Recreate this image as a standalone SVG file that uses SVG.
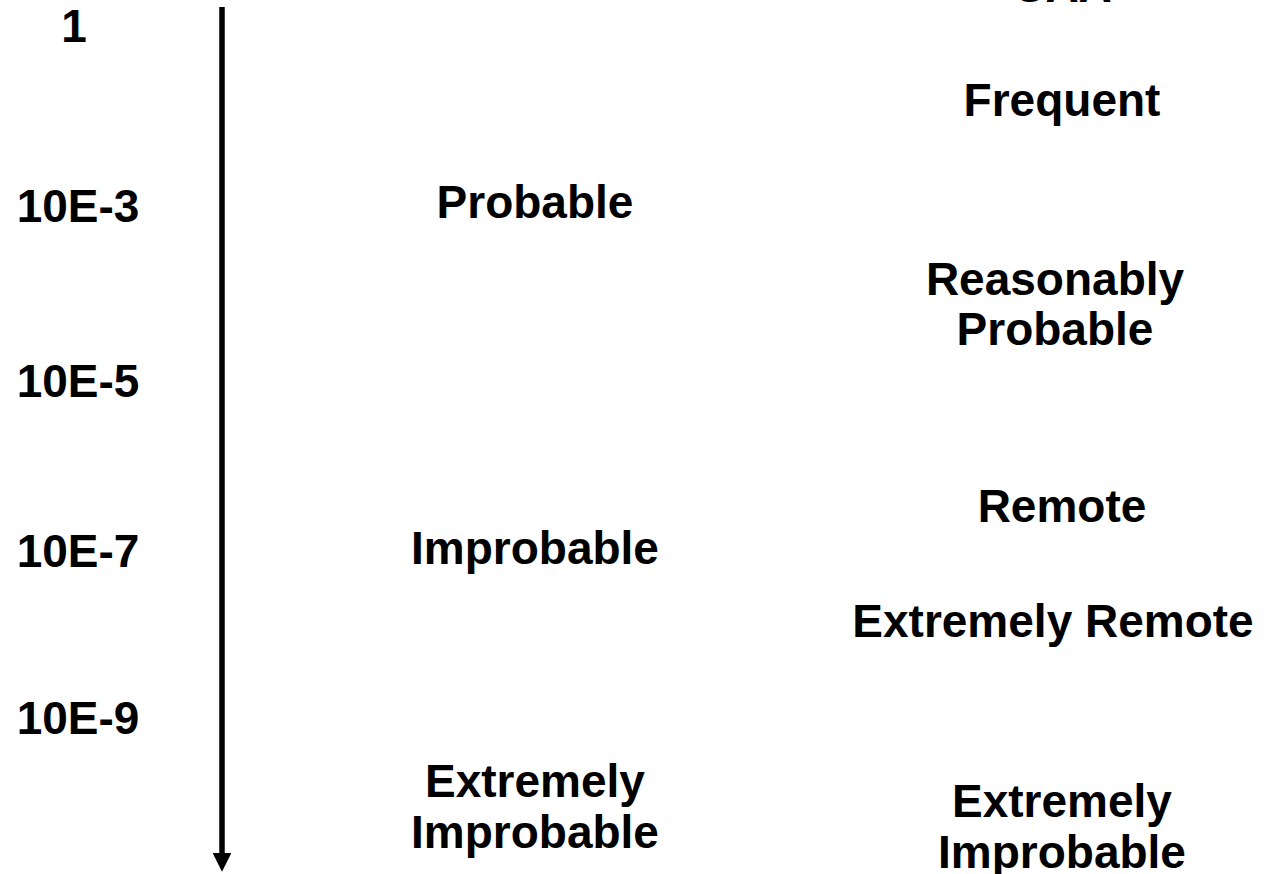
<svg xmlns="http://www.w3.org/2000/svg" width="1276" height="874" viewBox="0 0 1276 874">
<style>
text{font-family:"Liberation Sans",Arial,sans-serif;font-weight:bold;font-size:46px;fill:#000;text-anchor:middle}
</style>
<defs>
<marker id="ah" markerWidth="4" markerHeight="3.4" refX="0" refY="1.7" orient="auto" markerUnits="strokeWidth">
<path d="M0,0 L3.4,1.7 L0,3.4 Z" fill="#000"/>
</marker>
</defs>
<rect width="1276" height="874" fill="#fff"/>
<g id="connectors">
<path d="M222,7 L222,853" stroke="#000" stroke-width="5.5" fill="none" marker-end="url(#ah)"/>
</g>
<g id="scale">
<text x="74" y="42">1</text>
<text x="78" y="222">10E-3</text>
<text x="78" y="397">10E-5</text>
<text x="78" y="567">10E-7</text>
<text x="78" y="734">10E-9</text>
</g>
<g id="jar">
<text x="535" y="218">Probable</text>
<text x="535" y="564">Improbable</text>
<text x="535" y="797">Extremely</text>
<text x="535" y="848">Improbable</text>
</g>
<g id="caa">
<text x="1062" y="2">CAA</text>
<text x="1062" y="116">Frequent</text>
<text x="1055" y="295">Reasonably</text>
<text x="1055" y="345">Probable</text>
<text x="1062" y="522">Remote</text>
<text x="1053" y="637">Extremely Remote</text>
<text x="1062" y="817">Extremely</text>
<text x="1062" y="868">Improbable</text>
</g>
</svg>
